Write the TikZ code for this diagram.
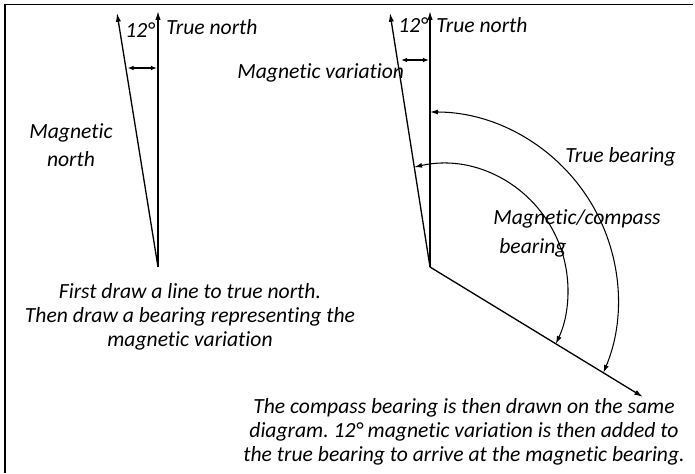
\documentclass[tikz,border=0pt]{standalone}
\usepackage{fontspec}
\setmainfont{Carlito}[Ligatures=NoCommon]
\usetikzlibrary{arrows.meta}
\frenchspacing

\tikzset{
  line/.style={line width=0.75pt, black},
  northarrow/.style={line, -{Latex[length=5pt,width=3pt]}},
  gaparrow/.style={line width=0.6pt, {Latex[length=3.5pt,width=2.6pt]}-{Latex[length=3.5pt,width=2.6pt]}},
  bearingarc/.style={line width=0.6pt, {Latex[length=4.5pt,width=2.8pt]}-{Latex[length=4.5pt,width=2.8pt]}},
  lbl/.style={font=\fontsize{12.3}{16}\selectfont\itshape, inner sep=0pt},
  note/.style={lbl, align=center, font=\fontsize{12.3}{13.5}\selectfont\itshape},
}

\begin{document}
\begin{tikzpicture}[x=0.02cm, y=-0.02cm]

  \useasboundingbox (0,0) rectangle (695,473);
  \draw[black, line width=0.8pt] (5,473) -- (5,4.5) -- (693,4.5);

  % first sketch: true north and magnetic north
  \coordinate (O1) at (158,267);
  \coordinate (TN1) at (158,11);
  \coordinate (MN1) at (117,13);
  \draw[northarrow] (O1) -- (TN1);
  \draw[northarrow] (O1) -- (MN1);
  \coordinate (G1a) at (127.5,68);
  \coordinate (G1b) at (157,68);
  \draw[gaparrow] (G1a) -- (G1b);

  \node[lbl, anchor=base west] (deg1) at (125,38) {12°};
  \node[lbl, anchor=base west] (tn1) at (166,35) {True north};
  \node[lbl, align=center] (mn1) at (71,145) {Magnetic\\north};

  % second sketch: bearings
  \coordinate (O2) at (430,267);
  \coordinate (TN2) at (430,11);
  \coordinate (MN2) at (390,13);
  \coordinate (B2) at (643,397);
  \draw[northarrow] (O2) -- (TN2);
  \draw[northarrow] (O2) -- (MN2);
  \draw[northarrow] (O2) -- (B2);
  \coordinate (G2a) at (401,60);
  \coordinate (G2b) at (429,60);
  \draw[gaparrow] (G2a) -- (G2b);

  \coordinate (TB) at (430,112);
  \coordinate (MB) at (414.2,167.1);
  \draw[bearingarc] (TB) arc[start angle=-90, end angle=22.8, radius=188];
  \draw[bearingarc] (MB) arc[start angle=-102.7, end angle=25.3, radius=126];

  \node[lbl, anchor=base west] (deg2) at (398,33) {12°};
  \node[lbl, anchor=base west] (tn2) at (436,33) {True north};
  \node[lbl, anchor=base west] (mv) at (237,78) {Magnetic variation};
  \node[lbl, anchor=base west] (tb) at (565,162) {True bearing};
  \node[lbl, align=left, anchor=base west] (mb) at (493,253) {Magnetic/compass\\\hspace*{1.2mm}bearing};

  % notes
  \node[note] (note1) at (190,317) {First draw a line to true north.\\Then draw a bearing representing the\\magnetic variation};
  \node[note] (note2) at (464,432) {The compass bearing is then drawn on the same\\diagram. 12° magnetic variation is then added to\\the true bearing to arrive at the magnetic bearing.};

\end{tikzpicture}
\end{document}
